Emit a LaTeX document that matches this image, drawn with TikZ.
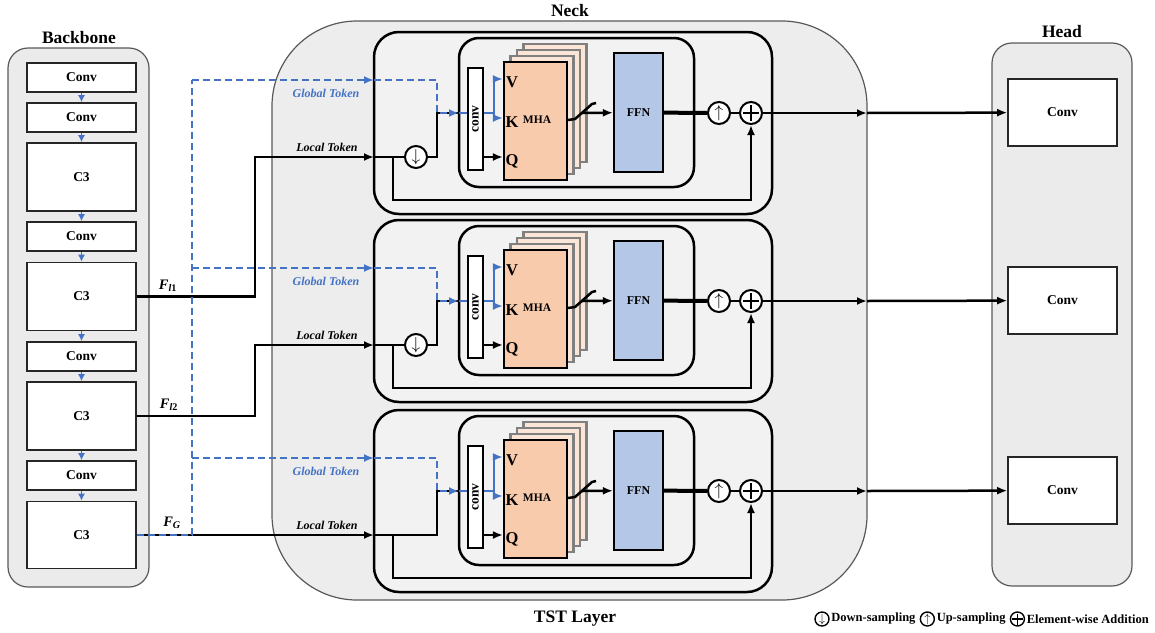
\documentclass[tikz,border=0pt]{standalone}
\usepackage{fontspec}
\usepackage{graphicx}
\setmainfont{Liberation Serif}
\usepackage{tikz}
\usetikzlibrary{positioning,calc,arrows.meta}

\definecolor{tokblue}{HTML}{4472C4}
\definecolor{mhafill}{HTML}{F8CBAD}
\definecolor{mhalight}{HTML}{FBE5D6}
\definecolor{ffnfill}{HTML}{B4C7E7}
\definecolor{sidegray}{HTML}{EBEBEB}
\definecolor{neckgray}{HTML}{EDEDED}
\definecolor{modgray}{HTML}{F2F2F2}

\begin{document}
\begin{tikzpicture}[x=1pt, y=-1pt, >={Latex[length=10pt,width=8pt]},
    panel/.style={draw=black!65, fill=sidegray, line width=1.2pt, rounded corners=20pt},
    paneltitle/.style={font=\fontsize{17.5}{17.5}\selectfont\bfseries, inner sep=0pt},
    bbox/.style={draw=black!85, fill=white, line width=1.6pt, minimum width=109pt, inner sep=0pt, font=\fontsize{13.5}{13.5}\selectfont\bfseries},
    modbox/.style={draw=black, fill=modgray, line width=2.5pt, rounded corners=25pt, minimum width=398pt, minimum height=182pt},
    innbox/.style={draw=black, fill=modgray, line width=2.5pt, rounded corners=20pt, minimum width=235pt, minimum height=149pt},
    convbox/.style={draw=black, fill=white, line width=2.2pt, minimum width=15pt, minimum height=102pt, inner sep=0pt, font=\fontsize{13.5}{13.5}\selectfont\bfseries},
    mhabox/.style={draw=black, fill=mhafill, line width=2.2pt, minimum width=63pt, minimum height=118pt},
    mhaback/.style={draw=black!50, fill=mhalight, line width=2.2pt, minimum width=63pt, minimum height=118pt},
    ffnbox/.style={draw=black, fill=ffnfill, line width=2.2pt, minimum width=49pt, minimum height=119pt, font=\fontsize{12}{12}\selectfont\bfseries},
    opc/.style={circle, draw=black, fill=white, line width=2pt, minimum size=22pt, inner sep=0pt, font=\fontsize{19}{19}\selectfont},
    addc/.style={opc, path picture={\draw[line width=1.6pt]
        ([xshift=-8pt]path picture bounding box.center) -- ([xshift=8pt]path picture bounding box.center)
        ([yshift=-8pt]path picture bounding box.center) -- ([yshift=8pt]path picture bounding box.center);}},
    legc/.style={circle, draw=black, fill=white, line width=1.4pt, minimum size=14pt, inner sep=0pt, font=\fontsize{12}{12}\selectfont},
    legadd/.style={legc, path picture={\draw[line width=1.1pt]
        ([xshift=-5.5pt]path picture bounding box.center) -- ([xshift=5.5pt]path picture bounding box.center)
        ([yshift=-5.5pt]path picture bounding box.center) -- ([yshift=5.5pt]path picture bounding box.center);}},
    legtext/.style={font=\fontsize{12.5}{12.5}\selectfont\bfseries, inner sep=0pt},
    mainline/.style={draw=black, line width=2.5pt},
    heavyline/.style={draw=black, line width=4pt},
    tokline/.style={draw=tokblue, line width=2.4pt},
    tokdash/.style={tokline, dash pattern=on 7pt off 4pt},
    bbarrow/.style={draw=tokblue, line width=1.3pt, -{Latex[length=7pt,width=7pt]}},
    qkv/.style={font=\fontsize{16.5}{16.5}\selectfont\bfseries, inner sep=0pt},
    loctext/.style={font=\fontsize{12}{12}\selectfont\bfseries\itshape, inner sep=0pt},
    globtext/.style={loctext, text=tokblue},
    flabel/.style={font=\fontsize{14.5}{14.5}\selectfont\bfseries, inner sep=0pt}]

    \useasboundingbox (0,0) rectangle (1155,632);

    % Panels
    \node[panel, minimum width=141pt, minimum height=539pt] (bbpanel) at (78.5,317.5) {};
    \node[panel, minimum width=140pt, minimum height=543pt] (hdpanel) at (1062,314.5) {};
    \node[draw=black!65, fill=neckgray, line width=1.2pt, rounded corners=85pt, minimum width=595pt, minimum height=579pt] (neckpanel) at (569.5,310.5) {};

    \node[paneltitle] (bbtitle) at (79,38) {Backbone};
    \node[paneltitle] (hdtitle) at (1062,32) {Head};
    \node[paneltitle] (necktitle) at (570,11) {Neck};
    \node[paneltitle] (tsttitle) at (575,619) {TST Layer};

    % Backbone
    \node[bbox, minimum height=29pt] (bconv1) at (81.5,77.5) {Conv};
    \node[bbox, minimum height=29pt] (bconv2) at (81.5,117.5) {Conv};
    \node[bbox, minimum height=68pt] (bc3a) at (81.5,177) {C3};
    \node[bbox, minimum height=29pt] (bconv3) at (81.5,236.5) {Conv};
    \node[bbox, minimum height=68pt] (bc3b) at (81.5,296.5) {C3};
    \node[bbox, minimum height=29pt] (bconv4) at (81.5,356.5) {Conv};
    \node[bbox, minimum height=68pt] (bc3c) at (81.5,416) {C3};
    \node[bbox, minimum height=29pt] (bconv5) at (81.5,475.5) {Conv};
    \node[bbox, minimum height=67pt] (bc3d) at (81.5,535) {C3};

    \foreach \a/\b in {bconv1/bconv2, bconv2/bc3a, bc3a/bconv3, bconv3/bc3b, bc3b/bconv4, bconv4/bc3c, bc3c/bconv5, bconv5/bc3d}
        \draw[bbarrow] (\a) -- (\b);

    % TST layers
    \foreach \r/\dy in {1/0, 2/188, 3/378}{
    \begin{scope}[shift={(0,\dy)}]
        \node[modbox] (mod\r) at (573,123) {};
        \node[innbox] (inn\r) at (576.5,112.5) {};
        \node[convbox] (cv\r) at (475.5,119) {\rotatebox{90}{conv}};
        \foreach \k in {3,2,1}
            \node[mhaback] (mhab\r\k) at (535.5+6.5*\k,121-6*\k) {};
        \node[mhabox] (mha\r) at (535.5,121) {};
        \node[qkv] (v\r) at (512,82) {V};
        \node[qkv] (k\r) at (512,122) {K};
        \node[qkv] (q\r) at (512,161) {Q};
        \node[font=\fontsize{11.5}{11.5}\selectfont\bfseries, inner sep=0pt] (mhatx\r) at (537,120) {MHA};
        \node[ffnbox] (ffn\r) at (638.5,112.5) {FFN};
        \node[opc] (up\r) at (719,113) {$\uparrow$};
        \node[addc] (add\r) at (751,113) {};
        \node[bbox, minimum height=67pt] (hc\r) at (1062.5,112.5) {Conv};
        \coordinate (lin\r) at (374,157);
        \coordinate (gin\r) at (374,80);
        \node[loctext] (ltx\r) at (327,147) {Local Token};
        \node[globtext] (gtx\r) at (326,93) {Global Token};

        % local token
        \ifnum\r<3
            \node[opc] (dn\r) at (416,157) {$\downarrow$};
            \draw[mainline] (lin\r) -- (dn\r);
            \draw[mainline] (dn\r) -| (437,113) -- (459,113);
        \else
            \draw[mainline] (lin\r) -| (437,113) -- (459,113);
        \fi
        \draw[mainline,->] (393,157) -- (393,200) -| (add\r);

        % global token
        \draw[tokdash,->] (192,80) -- (gin\r);
        \draw[tokdash,->] (gin\r) -- (437,80) -- (437,113) -- (459,113);
        \draw[tokline] (459,113) -- (cv\r.west |- 0,113);

        % attention block
        \draw[tokline] (cv\r.east |- 0,113) -- (494,113);
        \draw[tokline,->] (494,113) |- (mha\r.west |- 0,79);
        \draw[tokline,->] (494,113) |- (mha\r.west |- 0,118);
        \draw[mainline,->] (cv\r.east |- 0,157) -- (mha\r.west |- 0,157);
        \draw[mainline] (mha\r.east |- 0,120) -- (575,119) -- (592,104) -- (596,103);
        \draw[mainline,->] (582,113) -- (ffn\r);
        \draw[heavyline] (ffn\r) -- (up\r);
        \draw[mainline] (up\r) -- (add\r);
        \draw[mainline,->] (add\r) -- (867,113);
        \draw[mainline,->] (867,113) -- (hc\r);
    \end{scope}}

    % Backbone to neck
    \draw[mainline,->] (bc3b.east) -- (255,296.5) |- (lin1);
    \draw[mainline,->] (bc3c.east) -- (255,416) |- (lin2);
    \draw[mainline,->] (bc3d.east) -- (lin3);
    \draw[tokdash] (bc3d.east) -- (192,535) -- (192,80);

    \node[flabel] (fl1) at (168,286) {\textit{F}\textsubscript{\textit{l}1}};
    \node[flabel] (fl2) at (169,405) {\textit{F}\textsubscript{\textit{l}2}};
    \node[flabel] (fg) at (172,523) {\textit{F}\textsubscript{\textit{G}}};

    % Legend
    \node[legc] (lgdn) at (822,619) {$\downarrow$};
    \node[legtext, right=1.5pt of lgdn] (lgdntx) {Down-sampling};
    \node[legc, right=4pt of lgdntx] (lgup) {$\uparrow$};
    \node[legtext, right=1.5pt of lgup] (lguptx) {Up-sampling};
    \node[legadd, right=4pt of lguptx] (lgadd) {};
    \node[legtext, right=1.5pt of lgadd] (lgaddtx) {Element-wise Addition};
\end{tikzpicture}
\end{document}
